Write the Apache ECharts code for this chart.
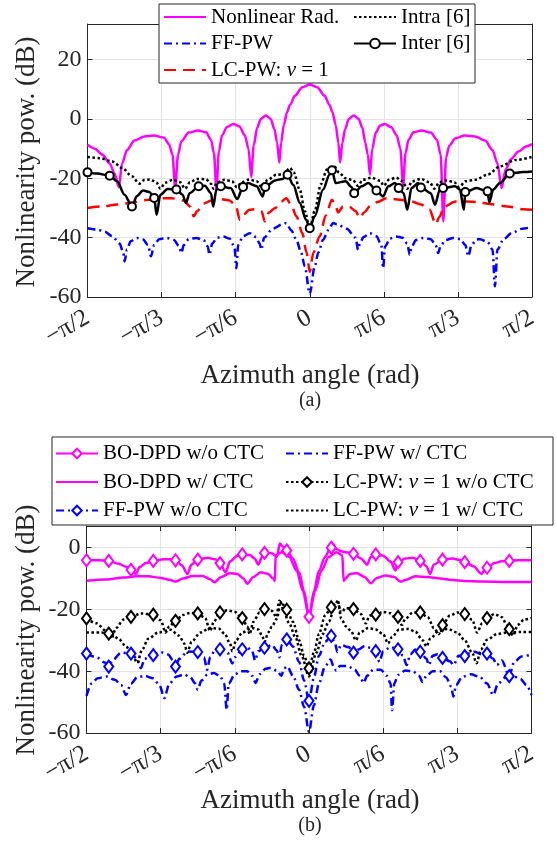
<!DOCTYPE html>
<html><head><meta charset="utf-8">
<script src="https://cdn.jsdelivr.net/npm/echarts@6/dist/echarts.min.js"></script>
<style>html,body{margin:0;padding:0;background:#fff}#c{width:557px;height:842px}</style>
</head><body><div id="c"></div>
<script>
// ---------- axis ticks (x in degrees) ----------
const xTickVals = [-90, -60, -30, 0, 30, 60, 90];
const xTickLabels = ['\u2212\u03c0/2', '\u2212\u03c0/3', '\u2212\u03c0/6', '0', '\u03c0/6', '\u03c0/3', '\u03c0/2'];
const yTicksA = [-60, -40, -20, 0, 20];
const yTicksB = [-60, -40, -20, 0];
const markerX = [-90,-81,-72,-63,-54,-45,-36,-27,-18,-9,0,9,18,27,36,45,54,63,72,81];

// ---------- (a) ----------
const nonlinRad = [[-90,-8.7],[-87,-10],[-84,-12],[-81,-15],[-79,-18.5],[-77.3,-23],[-76,-15],[-74,-10.5],[-71,-7.3],[-67,-5.9],[-63,-5.6],[-59,-6.3],[-57,-8.5],[-55.6,-12],[-54.5,-23],[-53.3,-12],[-52,-7.5],[-49,-4.6],[-45.3,-3.9],[-42,-4.5],[-40,-7],[-38.8,-11.5],[-37.8,-24],[-36.8,-11],[-35.5,-5.5],[-33.5,-2.7],[-31,-1.7],[-28.5,-2.5],[-26.3,-5.5],[-24.8,-10],[-23.7,-19.5],[-22.7,-9],[-21.3,-3],[-19.8,0],[-17.8,1.2],[-15.8,0],[-14.3,-3.5],[-13.2,-8],[-12.3,-14.7],[-11.6,-8],[-10.5,-2],[-9.2,2.3],[-8,4.7],[-6,7.8],[-3,10.7],[0,11.6],[3,10.7],[6,7.8],[8,4.7],[9.2,2.3],[10.5,-2],[11.6,-8],[12.3,-14.7],[13.2,-8],[14.3,-3.5],[15.8,0],[17.8,1.2],[19.8,0],[21.3,-3],[22.5,-8],[23.5,-12],[24.4,-18.8],[25.3,-10],[26.8,-4.5],[28.5,-2.2],[30.4,-1.7],[33,-2.8],[35.2,-5.5],[36.7,-10],[37.8,-22.7],[38.8,-11.5],[40,-7],[42,-4.5],[45.3,-3.9],[49,-4.6],[51.5,-7],[53,-12],[54.1,-34.5],[55.2,-13],[56.5,-9],[59,-6.5],[62.8,-5.6],[67,-5.9],[71,-7.3],[74,-10.5],[76,-15],[77.7,-23.3],[79.3,-17],[81.5,-13.5],[84.5,-11],[87.5,-9.3],[90,-8.5]];
const ffpwA = [[-90,-36.8],[-86,-37.3],[-83,-38],[-80,-39.5],[-77,-42],[-75.5,-45],[-75,-48],[-74,-44],[-72.5,-41.2],[-70,-40.1],[-67.5,-40.6],[-65.5,-42.5],[-64.3,-46.3],[-63,-42.5],[-61,-40.5],[-58,-40.1],[-55,-40.8],[-53,-42.8],[-52,-45.2],[-51,-42.5],[-49,-40.5],[-46,-40.1],[-43,-40.8],[-41.3,-43],[-40.6,-45.8],[-39.5,-42],[-37.5,-40],[-35,-39.6],[-32.5,-40.3],[-30.5,-43],[-29.7,-50.3],[-29,-42.5],[-27,-39.5],[-24.3,-38.5],[-21.8,-39.8],[-20.3,-42],[-19.6,-44.1],[-18.5,-40],[-15,-37],[-11,-35.5],[-9.5,-35.1],[-7.5,-37.5],[-5.4,-40.7],[-3.5,-45],[-2,-49.7],[0,-59],[2,-49.7],[3.5,-45],[5.4,-40.7],[7.5,-37.5],[9.5,-35.1],[11,-35.5],[15,-37],[18.5,-40],[19.6,-44.1],[20.3,-42],[21.8,-39.8],[24.3,-38.5],[27,-39.5],[29,-42.5],[29.7,-50.3],[30.5,-43],[32.5,-40.3],[35,-39.6],[37.5,-40],[39.5,-42],[40.5,-45.8],[41.3,-43],[43,-40.8],[46,-40.1],[49,-40.5],[51,-42.5],[52,-45.2],[53,-42.8],[55,-40.8],[58,-40.1],[61,-40.5],[63,-42.5],[64.2,-46.3],[65.5,-42.5],[67.5,-40.6],[69,-40.5],[72,-41.5],[74,-44],[75,-56.4],[76,-44],[78.5,-40.5],[82,-38.3],[86,-37],[90,-36.4]];
const lcpwA = [[-90,-30],[-84,-29.5],[-78,-28.8],[-72,-28.2],[-66,-27.3],[-61,-26.7],[-56,-26.7],[-51,-27.5],[-48.5,-29.5],[-47,-32.8],[-45.5,-31],[-43,-28.5],[-40,-27.6],[-36,-27],[-32.5,-27.5],[-30,-29],[-28.3,-34],[-26.5,-32],[-24.5,-30.6],[-22,-30.4],[-19.5,-31.2],[-18.2,-34.5],[-16.5,-31.5],[-14,-30],[-11.5,-27.8],[-9.5,-26.7],[-7.5,-29],[-5.4,-32.8],[-3,-38.5],[-1.3,-45],[0,-51.5],[1.5,-45],[4,-39.6],[6.5,-32.5],[9,-27.2],[10.5,-29.5],[11.5,-31.5],[13.5,-29.5],[16,-29.6],[18.5,-31],[20.3,-33.4],[22,-31.5],[24.5,-29.3],[27.5,-28],[31,-26.7],[36.5,-27.2],[41,-27.8],[45,-28.8],[48.5,-30.5],[51,-35.5],[52.5,-33],[54.5,-29.5],[59,-27.8],[63.5,-27.8],[68,-28],[73,-28.7],[80,-29.5],[86.5,-30.4],[90,-30.6]];
const intraA = [[-90,-12.8],[-85,-13.2],[-80,-14.3],[-76,-16.5],[-72,-19.3],[-69,-21.8],[-67,-20.6],[-64.5,-20.4],[-62,-21.5],[-60.5,-23.5],[-58.5,-21.5],[-55.5,-20.5],[-52.5,-21.3],[-50.5,-23.5],[-48.5,-21.3],[-45.5,-20.2],[-42,-20.3],[-40,-21.8],[-39,-23.5],[-37.5,-21.3],[-34.5,-20.5],[-31.5,-21],[-29.5,-23],[-27.5,-21.3],[-24.5,-20.4],[-21.5,-21],[-19.5,-23],[-17,-20.5],[-13.5,-18.8],[-10.5,-18.6],[-8,-16.5],[-6.5,-18],[-4,-24],[-2,-31],[0,-37],[2,-31],[4.5,-22],[7,-17],[10,-16],[12,-18.2],[14.5,-20],[17.5,-20.6],[19.5,-22.5],[21.5,-20.5],[25,-19.8],[28.5,-20.8],[30,-22.5],[32,-20.5],[35,-19.8],[37.5,-21],[39.5,-23.5],[41.5,-21],[45,-20.2],[48.5,-21.3],[50.5,-23.5],[52.5,-21.3],[55.5,-20.7],[58.5,-21.3],[60.5,-23],[63,-21],[67,-20.5],[72,-18.8],[77,-16],[83.5,-13.8],[90,-12.8]];
const interA = [[-90,-18],[-86,-18.4],[-81,-19.1],[-78,-21],[-75,-25.5],[-72,-29.5],[-70,-26],[-67.5,-24.1],[-65,-24.6],[-63,-26.6],[-62,-32.3],[-60.5,-25.5],[-57.5,-23.6],[-54,-23.8],[-51.5,-25.5],[-50.2,-28.3],[-48.6,-25],[-45,-22.7],[-42.5,-22.5],[-40,-25],[-39.1,-29.5],[-37.8,-23.8],[-36,-22.7],[-32,-23.3],[-29.4,-27],[-27,-22.9],[-25,-21.6],[-21.5,-22.7],[-19.1,-26.1],[-18,-22.9],[-14,-20.7],[-11,-20.2],[-9,-18.8],[-6.7,-22.2],[-4,-28.3],[-1.5,-34],[0,-36.8],[2,-32.8],[5.4,-23.8],[8,-18.8],[9,-17.3],[10.5,-21.6],[14.5,-21],[17,-23],[18,-25],[21,-22.7],[23.7,-21.6],[27,-24.1],[29.7,-26.1],[31.8,-22.7],[34.5,-21.6],[36,-23.3],[38,-25],[39.5,-30.6],[41.2,-23.3],[43.9,-21.6],[45,-23.1],[49,-25],[50.7,-28.9],[52.7,-23.8],[54,-23.3],[58.8,-22.7],[60.8,-23.8],[62.4,-30.6],[63,-24.6],[67.6,-23.3],[70.5,-24],[72,-24.4],[72.7,-28.1],[74.3,-23.8],[77,-21.6],[81,-18.4],[86.5,-17.9],[90,-17.7]];

// ---------- (b) ----------
const boWo = [[-90,-4.1],[-85,-4.1],[-81,-4.3],[-77,-5.2],[-74,-6.2],[-72,-7.2],[-70,-8.5],[-68.5,-6.3],[-66,-5],[-63,-4.3],[-59,-3.8],[-56,-3.8],[-54,-4.1],[-51.5,-5.7],[-49.2,-8.5],[-47.5,-5.5],[-45,-3.9],[-41,-3.3],[-38,-3.8],[-36,-5],[-33.7,-8],[-32,-4.5],[-29,-2.6],[-27,-2.2],[-24,-2.4],[-22,-3.5],[-20.5,-5.5],[-19,-3],[-18,-1.7],[-15,-1.8],[-13,-3],[-11.8,1.3],[-10.5,0.3],[-9,-0.9],[-6.5,-3.5],[-4,-8],[-2,-14],[0,-22.4],[2,-14],[4,-7.5],[6.5,-3],[8.5,-0.5],[9,0],[9.8,1.2],[10.8,-0.3],[13,-1.2],[16,-1.6],[18,-2],[21,-3.5],[23.5,-5.5],[25,-3],[27,-2.2],[30,-2.6],[33,-4.5],[35,-7.4],[36,-4.7],[39,-3.5],[42,-3.3],[45,-4.3],[47.5,-6],[49,-8.5],[50.5,-5.5],[54,-3.9],[58,-3.5],[61,-4],[63,-4.7],[66.5,-6],[69.8,-8.5],[71,-7.3],[72,-6.5],[75,-5],[78,-4.4],[81,-4.3],[85,-4.1],[90,-4.1]];
const boW = [[-90,-10.7],[-82,-10.3],[-75,-9.7],[-70,-9.3],[-65,-9.3],[-60,-9.8],[-56,-10.5],[-54,-11],[-51,-10],[-47,-9.2],[-43,-9.2],[-40,-10.2],[-38.3,-11.2],[-35.5,-9.5],[-32,-8.3],[-29,-8.5],[-26.5,-10],[-25,-11.7],[-22.5,-9.5],[-19.5,-8],[-16.5,-8.5],[-14.5,-10],[-13.8,-10.8],[-13.5,-2.5],[-11,-1.5],[-8,-3],[-5,-7.5],[-2.5,-14],[0,-22.4],[2.5,-14],[5,-7.5],[8,-3],[11,-1.5],[13.5,-2.5],[14,-10.8],[14.8,-10],[16.5,-8.5],[19.5,-8.3],[22.5,-9.5],[25,-11.5],[27.5,-9.8],[31,-9],[34.5,-9.5],[37,-11],[39,-10.5],[43,-9.3],[48,-9.5],[53,-10],[58,-10.5],[63,-10.8],[70,-11],[80,-11.1],[90,-11.1]];
const ffWo = [[-90,-34.3],[-86,-35.5],[-82.5,-37.2],[-81,-38.5],[-79.5,-36.5],[-76,-34],[-72,-34.3],[-69.5,-36],[-68,-39],[-66.5,-36],[-63,-34.8],[-60,-33.8],[-57,-34.6],[-55,-36.5],[-54,-38.5],[-52.5,-36],[-49,-33.6],[-45,-33.8],[-42.5,-35.5],[-41.2,-39.5],[-40,-35.5],[-38,-33.2],[-36,-32.9],[-33,-34],[-31,-37.5],[-30,-35.5],[-27,-32.9],[-25,-32.3],[-23,-33.5],[-21.8,-36.5],[-20.5,-33.5],[-18,-32.4],[-15,-31.5],[-13,-33.3],[-12,-35.5],[-11,-31.5],[-9,-29.7],[-6.5,-32],[-4,-37],[-2,-43],[0,-49.6],[2,-42],[4,-35],[6.5,-30.5],[9,-28.6],[10.5,-31],[11.5,-33.8],[13,-31.5],[16,-32.2],[18,-34],[20,-33],[22.5,-31.8],[25,-32.5],[27,-33.5],[28.5,-37],[30,-33.5],[33,-32.2],[36,-32.9],[38,-35],[39.5,-38],[41,-34.5],[43,-33],[45,-33.7],[47.5,-36],[48.5,-38],[50,-35],[52,-34.5],[54,-35.7],[57,-36.8],[58.5,-38],[60.5,-35],[63,-35.1],[65,-34.2],[67,-33.7],[69.5,-34.5],[72,-34.3],[74.5,-36],[76,-38],[78,-36.5],[81,-41.6],[83,-37],[86,-35.2],[90,-34.6]];
const ffW = [[-90,-48],[-88,-44],[-85.5,-42.3],[-82,-41.7],[-78.5,-42.8],[-76,-44.5],[-74,-47.7],[-72,-44],[-69.5,-42],[-66.5,-41.5],[-63,-42.3],[-60.5,-44.5],[-58.5,-48.7],[-56.5,-44],[-53.5,-41.7],[-50.5,-41.1],[-48,-42],[-46,-44],[-45,-46],[-43.5,-43],[-41,-41],[-38.5,-40.6],[-36,-41.5],[-34.3,-44],[-33.3,-52.5],[-32.5,-44],[-30,-41],[-27.5,-40],[-25,-40],[-23,-41.5],[-21.6,-43.8],[-20,-41],[-17.5,-39.2],[-15.5,-38.9],[-13,-39.8],[-11.2,-41.5],[-10,-39],[-8.8,-38.4],[-6.5,-41.5],[-4,-46],[-2,-51.5],[0,-59.7],[2,-51],[4,-44],[6.5,-38.5],[8.7,-36.2],[10,-38.5],[11,-39.8],[12.5,-38.3],[15.5,-38.3],[18.5,-39.5],[20.5,-41.5],[22.1,-43.8],[23.5,-41.5],[26,-39.5],[29,-39.5],[31.5,-41.5],[33,-44],[33.6,-52.6],[34.5,-44],[36,-41.2],[39,-39.8],[42,-40],[44.5,-41.5],[46,-43.5],[47.5,-41.5],[50,-40],[53,-40],[55.5,-42],[57.5,-45],[58.4,-48.2],[59.5,-44.5],[62,-41.8],[65.5,-41],[69,-41.8],[72,-44],[74.5,-47.7],[76.5,-44],[79.5,-42],[82.5,-41.6],[85.5,-42.5],[88,-44.5],[90,-47.7]];
const lcWo = [[-90,-22.9],[-86,-24.5],[-82,-27],[-81,-27.8],[-80,-29.5],[-78,-26],[-75,-23.3],[-72,-22.4],[-68,-21.3],[-63,-21.7],[-60,-23.5],[-58,-27.5],[-56.5,-25.5],[-54,-23.7],[-51,-21.8],[-48,-21.1],[-45,-21.3],[-42,-22.8],[-40,-27],[-38.5,-24],[-36,-21],[-33,-20.3],[-30,-20.8],[-27,-22.8],[-25,-25.5],[-24,-28],[-22.5,-24],[-20,-21],[-18,-19.9],[-15,-20.5],[-13.2,-22.5],[-12,-17.2],[-10.5,-18.5],[-9,-20.1],[-6.5,-24],[-4,-30],[-2,-35],[0,-39.1],[2,-34],[4,-28],[6.5,-22],[9,-19.3],[11.5,-17.5],[13,-21],[15,-19.5],[18,-19.9],[21,-21.5],[23,-24.5],[24.5,-22],[27,-21.7],[30,-20.8],[33,-21.2],[35,-23],[36,-22.4],[37.5,-25],[39,-23],[42,-21],[45,-21],[48,-22.5],[50.5,-26],[52.5,-28],[54,-25.1],[57,-22],[60,-21],[63,-21.5],[66,-23.3],[68,-27.5],[70,-24.5],[72,-22.8],[75,-21.5],[78,-22.5],[80,-25],[81,-26.4],[82.5,-28.5],[84.5,-25],[87,-23.3],[90,-22.8]];
const lcW = [[-90,-27.5],[-84,-27.5],[-80,-28],[-77,-29.5],[-74,-32],[-71.5,-34.5],[-69.5,-37.3],[-67.5,-33],[-65,-29.5],[-61,-27.5],[-56,-26.6],[-52.5,-28.5],[-50.5,-31],[-49.2,-34],[-47.5,-30.5],[-44,-27.5],[-40,-26],[-36.5,-26.2],[-34,-28],[-32,-31],[-31,-33.5],[-29.5,-30],[-27,-27.5],[-23,-26],[-20.5,-26.5],[-19,-28.5],[-18,-30.5],[-16.5,-27.5],[-15,-25.5],[-13,-23],[-11.5,-17.5],[-10.5,-20],[-8,-24.5],[-5.5,-29],[-3,-35],[0,-41.7],[3,-34],[5.5,-28],[8,-24],[10.5,-19],[11.7,-17],[13,-23],[15,-25.5],[17,-27],[19,-30],[20.5,-27.5],[24,-26],[27,-26.5],[30,-28],[32,-31],[33.5,-29],[36.5,-26.5],[40,-26.3],[43,-27.2],[46,-30],[47.5,-32],[49,-29.5],[52.5,-27],[56,-26.3],[60,-27.5],[63,-30],[66,-34],[67.8,-37.4],[69.5,-33],[72,-29.8],[76,-28],[80,-27.5],[86,-27.3],[90,-27.3]];

// ---------- styling ----------
const FONT = 'Liberation Serif';
const AX = '#262626';
const MAG = '#ff00ff', BLU = '#0000ff', RED = '#ff0000', BLK = '#000000';
const DASH = [12, 7], DASHDOT = [8, 4, 2, 4], DOT = [2.5, 2.5];
const CLEAR = 'rgba(0,0,0,0)';

function mkSeries(name, pts, color, ltype, xi, yi, marker, msize) {
  return {
    name: name, type: 'line', xAxisIndex: xi, yAxisIndex: yi,
    data: pts.map(p => (marker && markerX.indexOf(p[0]) >= 0) ? {value: p} : {value: p, symbol: 'none'}),
    symbol: marker || 'none', symbolSize: msize || 8, showSymbol: !!marker,
    smooth: 0.3, smoothMonotone: 'x',
    lineStyle: {color: color, width: 2.5, type: ltype, cap: 'butt'},
    itemStyle: marker ? {color: '#ffffff', borderColor: color, borderWidth: 2}
                      : {color: CLEAR, borderColor: CLEAR, borderWidth: 0, opacity: 0},
    emphasis: {disabled: true}, silent: true, animation: false
  };
}

const xFmt = v => { const i = xTickVals.indexOf(Math.round(v)); return i >= 0 ? xTickLabels[i] : ''; };

function xAxes(gi) {
  return [
    {type: 'value', gridIndex: gi, min: -90, max: 90, interval: 30, position: 'bottom',
     axisLine: {show: true, onZero: false, lineStyle: {color: AX, width: 1}},
     axisTick: {inside: true, length: 5, lineStyle: {color: AX}},
     axisLabel: {formatter: xFmt, rotate: 30, margin: 19, color: AX, fontFamily: FONT, fontSize: 25},
     splitLine: {show: true, lineStyle: {color: '#e3e3e3', width: 1}}},
    {type: 'value', gridIndex: gi, min: -90, max: 90, interval: 30, position: 'top',
     axisLine: {show: true, onZero: false, lineStyle: {color: AX, width: 1}},
     axisTick: {inside: true, length: 5, lineStyle: {color: AX}},
     axisLabel: {show: false}, splitLine: {show: false}}
  ];
}
function yAxes(gi, max) {
  return [
    {type: 'value', gridIndex: gi, min: -60, max: max, interval: 20, position: 'left',
     axisLine: {show: true, onZero: false, lineStyle: {color: AX, width: 1}},
     axisTick: {inside: true, length: 5, lineStyle: {color: AX}},
     axisLabel: {showMaxLabel: false, margin: 6, color: AX, fontFamily: FONT, fontSize: 24,
                 formatter: v => (v < 0 ? '-' + Math.abs(v) : '' + v)},
     splitLine: {show: true, lineStyle: {color: '#e3e3e3', width: 1}}},
    {type: 'value', gridIndex: gi, min: -60, max: max, interval: 20, position: 'right',
     axisLine: {show: true, onZero: false, lineStyle: {color: AX, width: 1}},
     axisTick: {inside: true, length: 5, lineStyle: {color: AX}},
     axisLabel: {show: false}, splitLine: {show: false}}
  ];
}

const rich = {
  n: {fontFamily: FONT, fontSize: 21, color: '#000'},
  i: {fontFamily: FONT, fontSize: 21, color: '#000', fontStyle: 'italic'}
};
function legFmt(name) {
  const k = name.indexOf('\u03bd');
  if (k < 0) return '{n|' + name + '}';
  return '{n|' + name.slice(0, k) + '}{i|\u03bd}{n|' + name.slice(k + 1) + '}';
}
function legend(names, left, top, gap) {
  return {data: names, left: left, top: top, orient: 'vertical', itemWidth: 42, itemHeight: 12,
          itemGap: gap, padding: 0, selectedMode: false, z: 20, formatter: legFmt,
          textStyle: {fontFamily: FONT, fontSize: 21, color: '#000', rich: rich, lineHeight: 20}};
}

const N1 = 'Nonlinear Rad.', N2 = 'FF-PW', N3 = 'LC-PW: \u03bd = 1', N4 = 'Intra [6]', N5 = 'Inter [6]';
const M1 = 'BO-DPD w/o CTC', M2 = 'BO-DPD w/ CTC', M3 = 'FF-PW w/o CTC', M4 = 'FF-PW w/ CTC',
      M5 = 'LC-PW: \u03bd = 1 w/o CTC', M6 = 'LC-PW: \u03bd = 1 w/ CTC';

const titleFont = '27px "' + FONT + '"';
const option = {
  backgroundColor: '#ffffff',
  animation: false,
  grid: [
    {left: 87.5, top: 24, width: 444.5, height: 273, containLabel: false},
    {left: 86.5, top: 526, width: 445, height: 207, containLabel: false}
  ],
  xAxis: xAxes(0).concat(xAxes(1)),
  yAxis: yAxes(0, 32).concat(yAxes(1, 7)),
  legend: [
    legend([N1, N2, N3], 163, 6.5, 5.5),
    legend([N4, N5], 353, 6.5, 5.5),
    legend([M1, M2, M3], 55, 443, 7.5),
    legend([M4, M5, M6], 285, 443, 7.5)
  ],
  graphic: [
    {type: 'rect', z: 15, shape: {x: 159, y: 4, width: 316, height: 79}, style: {fill: '#fff', stroke: AX, lineWidth: 1}},
    {type: 'rect', z: 15, shape: {x: 52, y: 437, width: 501, height: 88}, style: {fill: '#fff', stroke: AX, lineWidth: 1}},
    {type: 'text', z: 20, x: 310, y: 376, style: {text: 'Azimuth angle (rad)', font: titleFont, fill: AX, textAlign: 'center', textVerticalAlign: 'middle'}},
    {type: 'text', z: 20, x: 310, y: 401, style: {text: '(a)', font: '20px "' + FONT + '"', fill: AX, textAlign: 'center', textVerticalAlign: 'middle'}},
    {type: 'text', z: 20, x: 310, y: 801, style: {text: 'Azimuth angle (rad)', font: titleFont, fill: AX, textAlign: 'center', textVerticalAlign: 'middle'}},
    {type: 'text', z: 20, x: 310, y: 826, style: {text: '(b)', font: '20px "' + FONT + '"', fill: AX, textAlign: 'center', textVerticalAlign: 'middle'}},
    {type: 'text', z: 20, x: 27, y: 162, rotation: Math.PI / 2, style: {text: 'Nonlinearity pow. (dB)', font: titleFont, fill: AX, textAlign: 'center', textVerticalAlign: 'middle'}},
    {type: 'text', z: 20, x: 27, y: 630, rotation: Math.PI / 2, style: {text: 'Nonlinearity pow. (dB)', font: titleFont, fill: AX, textAlign: 'center', textVerticalAlign: 'middle'}}
  ],
  series: [
    mkSeries(N1, nonlinRad, MAG, 'solid', 0, 0),
    mkSeries(N2, ffpwA, BLU, DASHDOT, 0, 0),
    mkSeries(N3, lcpwA, RED, DASH, 0, 0),
    mkSeries(N4, intraA, BLK, DOT, 0, 0),
    mkSeries(N5, interA, BLK, 'solid', 0, 0, 'circle', 8),
    mkSeries(M1, boWo, MAG, 'solid', 2, 2, 'diamond', [9, 12]),
    mkSeries(M2, boW, MAG, 'solid', 2, 2),
    mkSeries(M3, ffWo, BLU, DASHDOT, 2, 2, 'diamond', [9, 12]),
    mkSeries(M4, ffW, BLU, DASHDOT, 2, 2),
    mkSeries(M5, lcWo, BLK, DOT, 2, 2, 'diamond', [9, 12]),
    mkSeries(M6, lcW, BLK, DOT, 2, 2)
  ]
};
const chart = echarts.init(document.getElementById('c'), null, {renderer: 'canvas'});
chart.setOption(option);
</script></body></html>
